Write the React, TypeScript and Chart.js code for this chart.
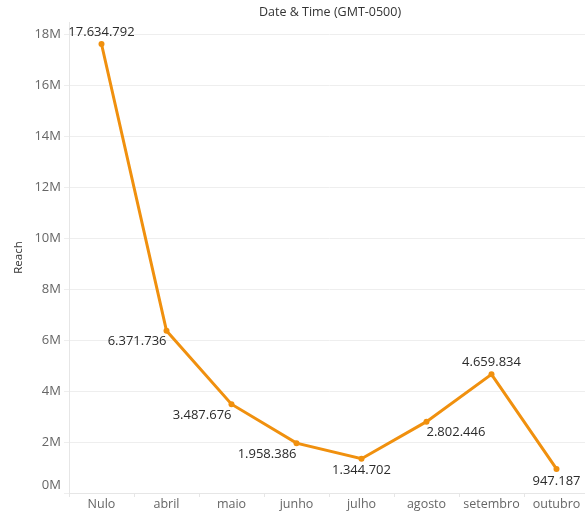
import React, { useEffect, useRef } from "react";
import { Chart, registerables } from "chart.js";

Chart.register(...registerables);

const categories = ["Nulo", "abril", "maio", "junho", "julho", "agosto", "setembro", "outubro"];
const reach = [17634792, 6371736, 3487676, 1958386, 1344702, 2802446, 4659834, 947187];
const labelPlacement = ["top", "bottom-left", "bottom-left", "bottom-left", "bottom", "bottom-right", "top", "bottom"];
const titleText = "Date & Time (GMT-0500)";
const yTitle = "Reach";

const fmt = (v: number) => Math.round(v).toString().replace(/\B(?=(\d{3})+(?!\d))/g, ".");

const labelPlugin = {
  id: "dataLabels",
  afterDatasetsDraw(chart: any) {
    const ctx = chart.ctx;
    const meta = chart.getDatasetMeta(0);
    ctx.save();
    ctx.font = "13px 'Open Sans'";
    ctx.fillStyle = "#2b2b2b";
    ctx.textBaseline = "middle";
    meta.data.forEach((pt: any, i: number) => {
      const txt = fmt(reach[i]);
      const p = labelPlacement[i];
      let x = pt.x, y = pt.y;
      if (p === "top") { ctx.textAlign = "center"; y -= 12; }
      else if (p === "bottom") { ctx.textAlign = "center"; y += 12; }
      else if (p === "bottom-left") { ctx.textAlign = "right"; y += 11; }
      else { ctx.textAlign = "left"; y += 11; }
      ctx.fillText(txt, x, y);
    });
    ctx.restore();
  },
  afterDraw(chart: any) {
    const ctx = chart.ctx;
    ctx.save();
    ctx.font = "12.5px 'Open Sans'";
    ctx.fillStyle = "#333";
    ctx.textAlign = "center";
    ctx.textBaseline = "middle";
    ctx.fillText(titleText, 330, 12);
    // zero tick label sits slightly above the baseline, inside the chart bounds
    const y = chart.scales.y;
    ctx.font = "13px 'Open Sans'";
    ctx.fillStyle = "#666";
    ctx.textAlign = "right";
    ctx.fillText("0M", y.right - 8, y.getPixelForValue(0) - 8);
    ctx.restore();
  },
};

export default function App() {
  const ref = useRef<HTMLCanvasElement>(null);
  useEffect(() => {
    const chart = new Chart(ref.current!, {
      type: "line",
      data: {
        labels: categories,
        datasets: [
          {
            data: reach,
            borderColor: "#F0900E",
            backgroundColor: "#F0900E",
            borderWidth: 3,
            pointRadius: 3,
            pointBorderWidth: 0,
            pointHoverRadius: 3,
            tension: 0,
          },
        ],
      },
      options: {
        animation: false,
        responsive: false,
        layout: { padding: { top: 22, right: 11, left: 0, bottom: 0 } },
        plugins: { legend: { display: false }, tooltip: { enabled: false }, title: { display: false } },
        scales: {
          x: {
            offset: true,
            grid: { display: true, drawOnChartArea: false, offset: true, tickLength: 4, color: "#e6e6e6" },
            border: { display: true, color: "#e6e6e6" },
            ticks: { color: "#666", font: { family: "Open Sans", size: 12.5 }, padding: 0 },
            afterFit(scale: any) { scale.height = 19; },
          },
          y: {
            min: 0,
            max: 18500000,
            afterBuildTicks(scale: any) {
              const t = [];
              for (let v = 0; v <= 18000000; v += 2000000) t.push({ value: v });
              scale.ticks = t;
            },
            grid: { color: "#eeeeee", tickLength: 5 },
            border: { display: true, color: "#e6e6e6" },
            ticks: {
              color: "#666",
              font: { family: "Open Sans", size: 13 },
              padding: 3,
              callback: (v: any) => (v === 0 ? "" : Math.round(v / 1000000) + "M"),
            },
            title: { display: true, text: yTitle, color: "#333", font: { family: "Open Sans", size: 11.5 }, padding: { top: 12, bottom: 0 } },
            afterFit(scale: any) { scale.width = 69; },
          },
        },
      },
      plugins: [labelPlugin],
    });
    return () => chart.destroy();
  }, []);
  return (
    <div style={{ position: "fixed", left: 0, top: 0, width: 585, height: 512, overflow: "hidden", background: "#fff" }}>
      <canvas ref={ref} width={600} height={512} style={{ display: "block", width: 600, height: 512 }} />
    </div>
  );
}
